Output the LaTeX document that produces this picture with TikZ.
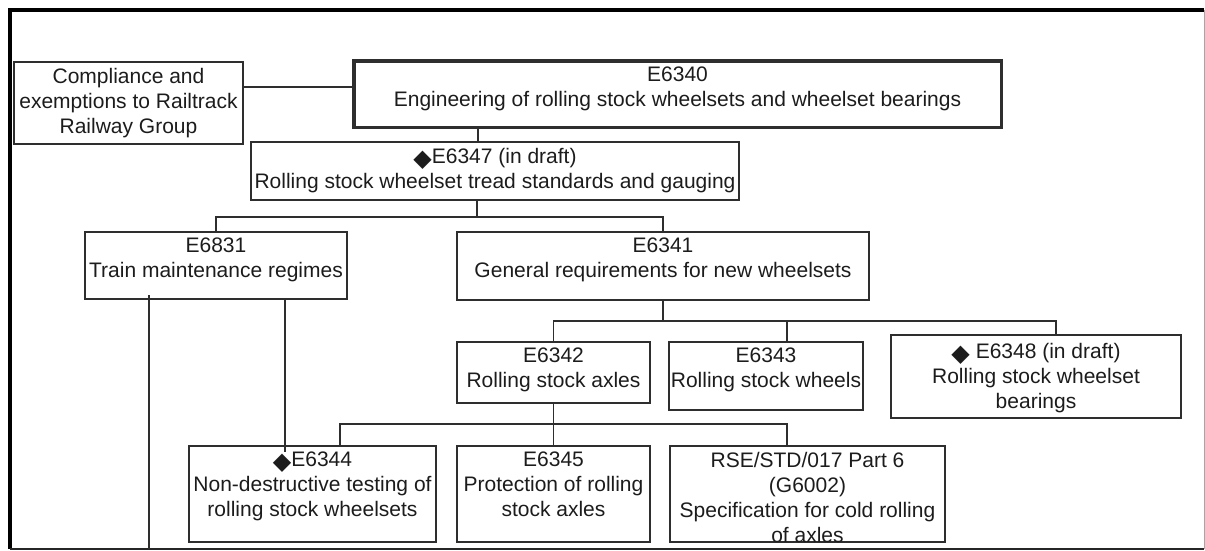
\documentclass[tikz,border=0pt]{standalone}
\usepackage{fontspec}
\setmainfont{Liberation Sans}
\newfontfamily\symfont{DejaVu Sans}
\usetikzlibrary{calc}
\definecolor{linec}{HTML}{2E2E2E}
\definecolor{textc}{HTML}{1C1C1C}
\newcommand{\dmd}{\raisebox{-3pt}{\symfont\fontsize{24}{25}\selectfont ◆}}

\begin{document}
\begin{tikzpicture}[x=1pt,y=-1pt,
  box/.style={draw=linec, line width=1.3pt, inner sep=0pt, outer sep=0pt},
  mainbox/.style={box, line width=3.5pt},
  txt/.style={anchor=north, inner sep=0pt, outer sep=0pt, align=center,
    text=textc, font=\fontsize{21}{25}\selectfont},
  wire/.style={draw=linec, line width=1.3pt}]

\useasboundingbox (0,0) rectangle (1205,551);

% outer frame
\node[inner sep=0pt, outer sep=0pt, minimum width=1194pt, minimum height=539pt]
  (frame) at (607,279.5) {};
\draw[line width=3.5pt, line join=miter, black] (frame.south west) -- (frame.north west) -- (frame.north east);
\draw[line width=1pt, black!35] (frame.north east) -- (frame.south east);
\draw[line width=2.2pt, black!85] (frame.south east) -- (frame.south west);

% boxes
\node[box, minimum width=229pt, minimum height=82pt] (comp) at (128.5,103) {};
\node[mainbox, minimum width=647.5pt, minimum height=66.5pt] (e6340) at (677.75,94.25) {};
\node[box, minimum width=488pt, minimum height=58pt] (e6347) at (495,171) {};
\node[box, minimum width=262pt, minimum height=67pt] (e6831) at (216,265.5) {};
\node[box, minimum width=412pt, minimum height=68pt] (e6341) at (663,266) {};
\node[box, minimum width=193pt, minimum height=61pt] (e6342) at (553.5,372.5) {};
\node[box, minimum width=194pt, minimum height=68pt] (e6343) at (766,376) {};
\node[box, minimum width=290pt, minimum height=83pt] (e6348) at (1036,376.5) {};
\node[box, minimum width=247pt, minimum height=96pt] (e6344) at (312.5,494) {};
\node[box, minimum width=193pt, minimum height=96pt] (e6345) at (553.5,494) {};
\node[box, minimum width=275pt, minimum height=96pt] (rse) at (807.5,494) {};

% box texts
\node[txt] (tcomp) at (128.5,68) {Compliance and\\exemptions to Railtrack\\Railway Group};
\node[txt] (t6340) at (677.5,67) {E6340\\Engineering of rolling stock wheelsets and wheelset bearings};
\node[txt] (t6347) at (495,148) {\dmd E6347 (in draft)\\Rolling stock wheelset tread standards and gauging};
\node[txt] (t6831) at (216,238) {E6831\\Train maintenance regimes};
\node[txt] (t6341) at (663,238) {E6341\\General requirements for new wheelsets};
\node[txt] (t6342) at (553.5,348) {E6342\\Rolling stock axles};
\node[txt] (t6343) at (766,348) {E6343\\Rolling stock wheels};
\node[txt] (t6348) at (1036,343) {\dmd\ E6348 (in draft)\\Rolling stock wheelset\\bearings};
\node[txt] (t6344) at (312.5,452) {\dmd E6344\\Non-destructive testing of\\rolling stock wheelsets};
\node[txt] (t6345) at (553.5,452) {E6345\\Protection of rolling\\stock axles};
\node[txt] (trse) at (807.5,452) {RSE/STD/017 Part 6\\(G6002)\\Specification for cold rolling\\of axles};

% junction points
\coordinate (h1) at (0,87);
\coordinate (v1) at (478,0);
\coordinate (b1) at (477,217);
\coordinate (b2) at (663,321);
\coordinate (d43) at (787,321);
\coordinate (d48) at (1056,321);
\coordinate (b3) at (553.5,424);
\coordinate (d44) at (340,424);
\coordinate (d46) at (787,424);
\coordinate (v2) at (285,0);
\coordinate (v3) at (149,295);

% connectors
\draw[wire] (comp.east |- h1) -- (e6340.west |- h1);
\draw[wire] (e6340.south -| v1) -- (e6347.north -| v1);
\draw[wire] (e6347.south -| b1) -- (b1);
\draw[wire] (e6831.north) |- (b1) -| (e6341.north);
\draw[wire] (e6341.south) -- (b2);
\draw[wire] (e6342.north) |- (d48) -- (e6348.north -| d48);
\draw[wire] (d43) -- (e6343.north -| d43);
\draw[wire] (e6342.south) -- (b3) -- (e6345.north);
\draw[wire] (e6344.north -| d44) -- (d44) -- (d46) -- (rse.north -| d46);
\draw[wire] (e6831.south -| v2) -- (t6344.north -| v2);
\draw[wire] (v3) -- (frame.south -| v3);
\end{tikzpicture}
\end{document}
